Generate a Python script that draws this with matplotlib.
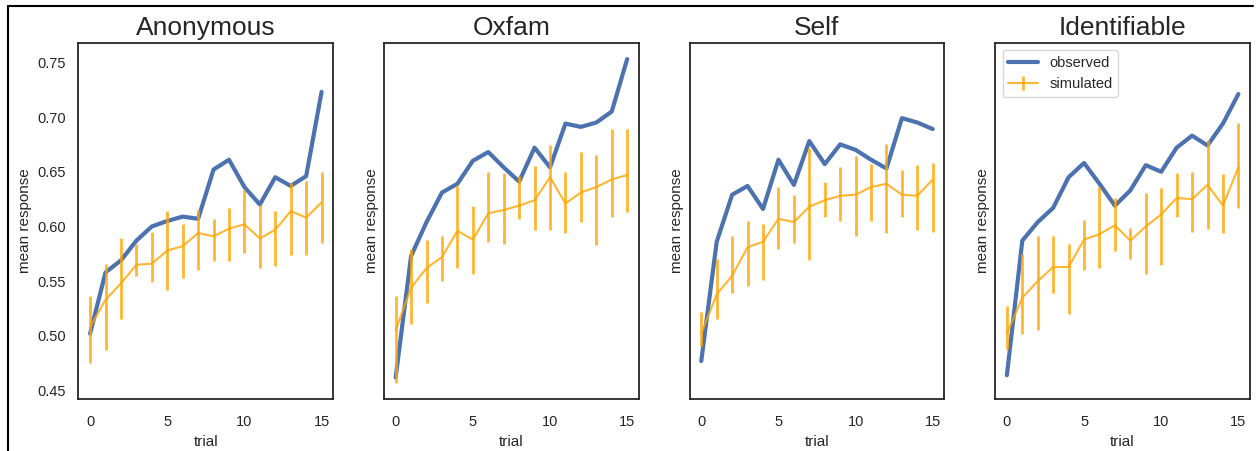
import numpy as np
import matplotlib
matplotlib.use("Agg")
import matplotlib.pyplot as plt
from matplotlib.lines import Line2D
import seaborn as sns

sns.set_style("white")
plt.rcParams["font.family"] = ["Liberation Sans", "DejaVu Sans"]

trials = np.arange(16)
conditions = ["Anonymous", "Oxfam", "Self", "Identifiable"]

# observed mean response per trial
obs_anonymous = [0.502, 0.558, 0.569, 0.587, 0.600, 0.605, 0.609, 0.607,
                 0.652, 0.661, 0.636, 0.620, 0.645, 0.637, 0.646, 0.723]
obs_oxfam = [0.462, 0.573, 0.604, 0.631, 0.639, 0.660, 0.668, 0.654,
             0.641, 0.672, 0.654, 0.694, 0.691, 0.695, 0.705, 0.753]
obs_self = [0.477, 0.586, 0.629, 0.637, 0.616, 0.661, 0.638, 0.678,
            0.657, 0.675, 0.670, 0.661, 0.653, 0.699, 0.695, 0.689]
obs_ident = [0.464, 0.587, 0.604, 0.617, 0.645, 0.658, 0.639, 0.619,
             0.633, 0.656, 0.650, 0.672, 0.683, 0.674, 0.694, 0.721]

# simulated mean with lower / upper interval bounds
sim_anonymous = [0.508, 0.533, 0.548, 0.565, 0.566, 0.578, 0.582, 0.594,
                 0.591, 0.598, 0.602, 0.589, 0.597, 0.614, 0.608, 0.622]
lo_anonymous = [0.475, 0.487, 0.515, 0.555, 0.549, 0.542, 0.553, 0.560,
                0.568, 0.568, 0.576, 0.562, 0.564, 0.574, 0.574, 0.585]
hi_anonymous = [0.536, 0.566, 0.589, 0.584, 0.595, 0.614, 0.602, 0.615,
                0.607, 0.617, 0.633, 0.620, 0.614, 0.640, 0.642, 0.650]

sim_oxfam = [0.505, 0.544, 0.562, 0.572, 0.596, 0.588, 0.612, 0.615,
             0.619, 0.624, 0.645, 0.621, 0.631, 0.636, 0.643, 0.647]
lo_oxfam = [0.457, 0.511, 0.530, 0.550, 0.562, 0.557, 0.586, 0.584,
            0.607, 0.597, 0.597, 0.594, 0.604, 0.583, 0.609, 0.613]
hi_oxfam = [0.536, 0.579, 0.588, 0.591, 0.637, 0.619, 0.650, 0.649,
            0.646, 0.655, 0.674, 0.650, 0.668, 0.665, 0.689, 0.689]

sim_self = [0.502, 0.538, 0.555, 0.581, 0.586, 0.607, 0.604, 0.618,
            0.624, 0.628, 0.629, 0.636, 0.639, 0.629, 0.628, 0.643]
lo_self = [0.491, 0.515, 0.539, 0.546, 0.551, 0.579, 0.585, 0.569,
           0.609, 0.605, 0.591, 0.605, 0.594, 0.609, 0.597, 0.595]
hi_self = [0.522, 0.570, 0.591, 0.605, 0.602, 0.636, 0.629, 0.672,
           0.641, 0.654, 0.664, 0.657, 0.675, 0.652, 0.656, 0.658]

sim_ident = [0.502, 0.535, 0.550, 0.563, 0.563, 0.588, 0.593, 0.601,
             0.587, 0.600, 0.611, 0.626, 0.625, 0.638, 0.619, 0.654]
lo_ident = [0.488, 0.502, 0.505, 0.539, 0.520, 0.560, 0.562, 0.578,
            0.570, 0.557, 0.565, 0.609, 0.595, 0.598, 0.594, 0.617]
hi_ident = [0.527, 0.575, 0.591, 0.591, 0.584, 0.606, 0.636, 0.626,
            0.599, 0.631, 0.635, 0.649, 0.650, 0.679, 0.648, 0.695]

observed = [obs_anonymous, obs_oxfam, obs_self, obs_ident]
simulated = [sim_anonymous, sim_oxfam, sim_self, sim_ident]
lower = [lo_anonymous, lo_oxfam, lo_self, lo_ident]
upper = [hi_anonymous, hi_oxfam, hi_self, hi_ident]

fig, axes = plt.subplots(1, 4, sharey=True, figsize=(12.58, 4.51), dpi=100)
fig.subplots_adjust(left=0.0624, right=0.9936, top=0.905, bottom=0.115, wspace=0.2)

for ax, name, obs, sim, lo, hi in zip(axes, conditions, observed, simulated, lower, upper):
    sim = np.array(sim)
    yerr = [sim - np.array(lo), np.array(hi) - sim]
    ax.plot(trials, obs, color="#4C72B0", lw=3, label="observed")
    ax.errorbar(trials, sim, yerr=yerr, color="orange", alpha=0.8,
                lw=1.5, elinewidth=2, label="simulated")
    ax.set_title(name, fontsize=19)
    ax.set_xlabel("trial", fontsize=11)
    ax.set_ylabel("mean response", fontsize=11)
    ax.set_xticks([0, 5, 10, 15])
    ax.tick_params(labelsize=10.5)
    ax.tick_params(axis="x", pad=8)
    ax.tick_params(axis="y", pad=5.5)
    for s in ax.spines.values():
        s.set_linewidth(1.3)

axes[0].set_yticks([0.45, 0.50, 0.55, 0.60, 0.65, 0.70, 0.75])
axes[-1].legend(loc="upper left", fontsize=10.5)

# frame lines along the top and left edge
fig.add_artist(Line2D([8 / 1258, 1253 / 1258], [1 - 6 / 451, 1 - 6 / 451],
                      transform=fig.transFigure, color="black", lw=1.5))
fig.add_artist(Line2D([8 / 1258, 8 / 1258], [0, 1 - 6 / 451],
                      transform=fig.transFigure, color="black", lw=1.5))

fig.savefig("out.png", dpi=100)
